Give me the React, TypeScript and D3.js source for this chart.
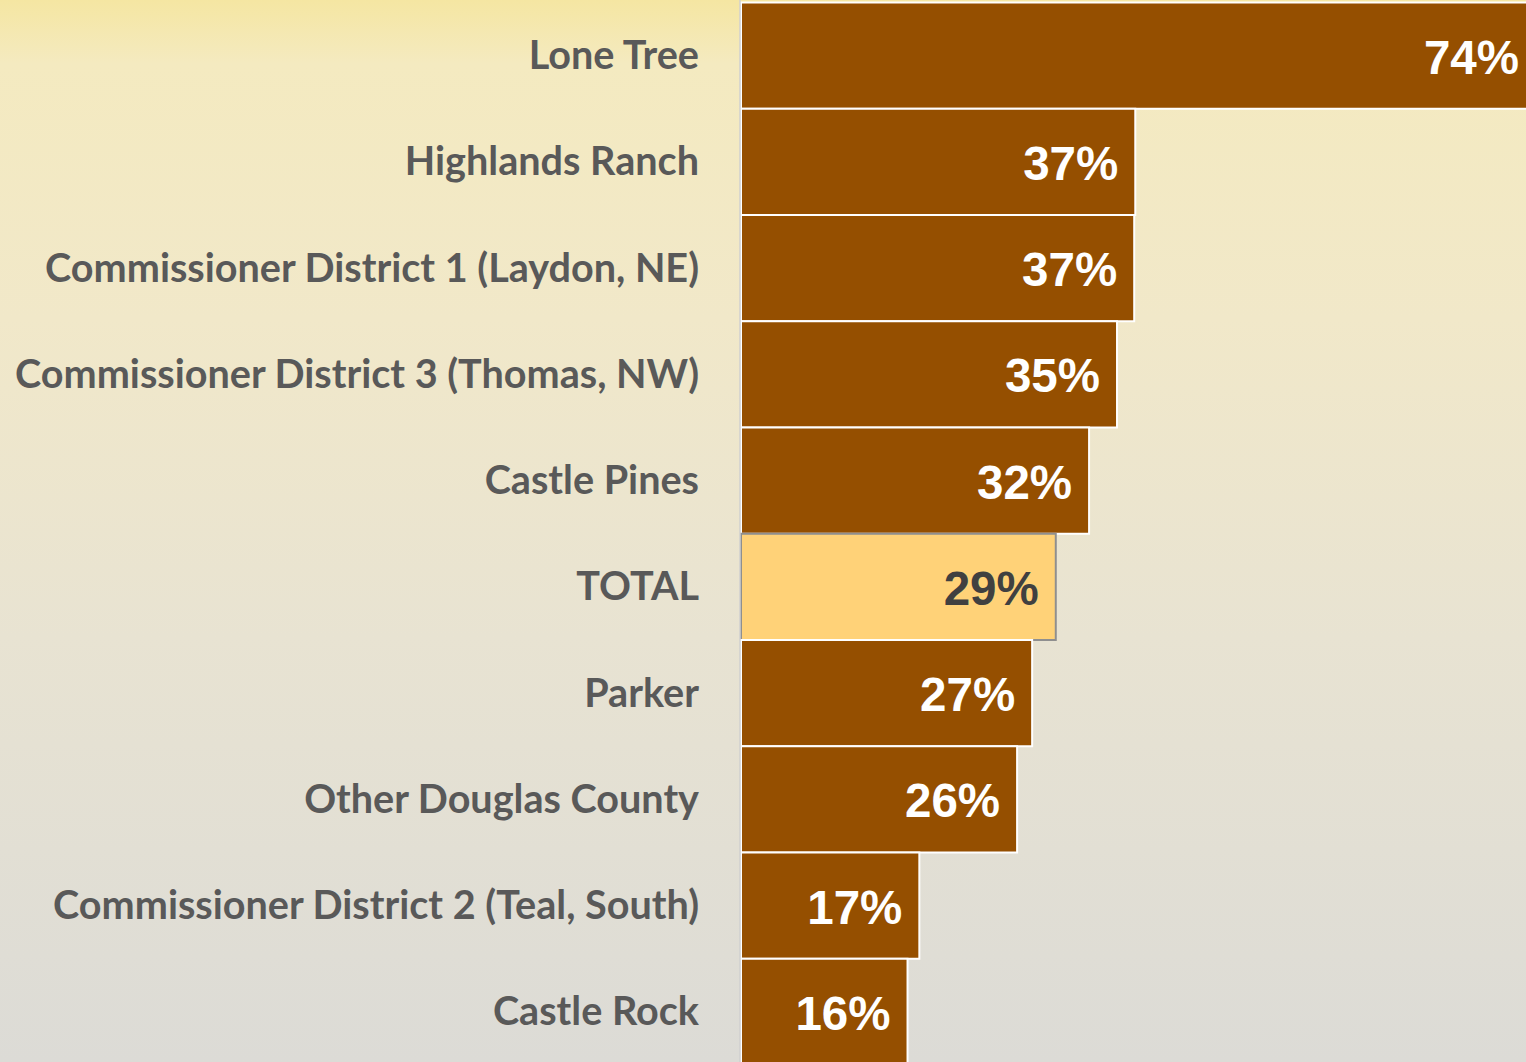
import React, { useEffect } from "react";
import * as d3 from "d3";

const categories = [
  "Lone Tree",
  "Highlands Ranch",
  "Commissioner District 1 (Laydon, NE)",
  "Commissioner District 3 (Thomas, NW)",
  "Castle Pines",
  "TOTAL",
  "Parker",
  "Other Douglas County",
  "Commissioner District 2 (Teal, South)",
  "Castle Rock",
];
const values = [74, 36.7, 36.6, 35.0, 32.4, 29.3, 27.1, 25.7, 16.6, 15.5];
const valueLabels = ["74%", "37%", "37%", "35%", "32%", "29%", "27%", "26%", "17%", "16%"];
const highlight = "TOTAL";

const W = 1526;
const H = 1062;

export default function App() {
  useEffect(() => {
    document.body.style.margin = "0";
  }, []);

  const x = d3.scaleLinear().domain([0, 74]).range([741, 1536]);
  const y = d3.scaleBand<string>().domain(categories).range([2.5, 1065]).padding(0);
  const bw = y.bandwidth();

  return (
    <svg width={W} height={H} style={{ display: "block", position: "absolute", left: 0, top: 0 }}>
      <defs>
        <linearGradient id="bg" x1="0" y1="0" x2="0" y2="1">
          <stop offset="0" stopColor="#f5e6a2" />
          <stop offset="0.06" stopColor="#f4eac0" />
          <stop offset="0.3" stopColor="#f1e8c9" />
          <stop offset="0.6" stopColor="#e8e3d2" />
          <stop offset="1" stopColor="#dcdbd6" />
        </linearGradient>
      </defs>
      <rect x={0} y={0} width={W} height={H} fill="url(#bg)" />
      {categories.map((c, i) => {
        const isH = c === highlight;
        const y0 = y(c)!;
        const x1 = x(values[i]);
        const cy = y0 + bw / 2;
        return (
          <g key={c}>
            <rect
              x={x(0)}
              y={y0}
              width={x1 - x(0)}
              height={bw}
              fill={isH ? "#ffd278" : "#954f00"}
              stroke={isH ? "#8f8f8f" : "#ffffff"}
              strokeWidth={2}
            />
            <text
              x={699}
              y={cy + 13.5}
              textAnchor="end"
              fontFamily="Lato, 'Open Sans', sans-serif"
              fontWeight={700}
              fontSize={39.6}
              fill="#595959"
            >
              {c}
            </text>
            <text
              x={x1 - 17}
              y={cy + 18}
              textAnchor="end"
              fontFamily="'Liberation Sans', Arial, sans-serif"
              fontWeight={700}
              fontSize={47.5}
              fill={isH ? "#404040" : "#ffffff"}
            >
              {valueLabels[i]}
            </text>
          </g>
        );
      })}
      <line x1={740} x2={740} y1={0} y2={H} stroke="#cfcfcf" strokeWidth={1.5} />
    </svg>
  );
}
